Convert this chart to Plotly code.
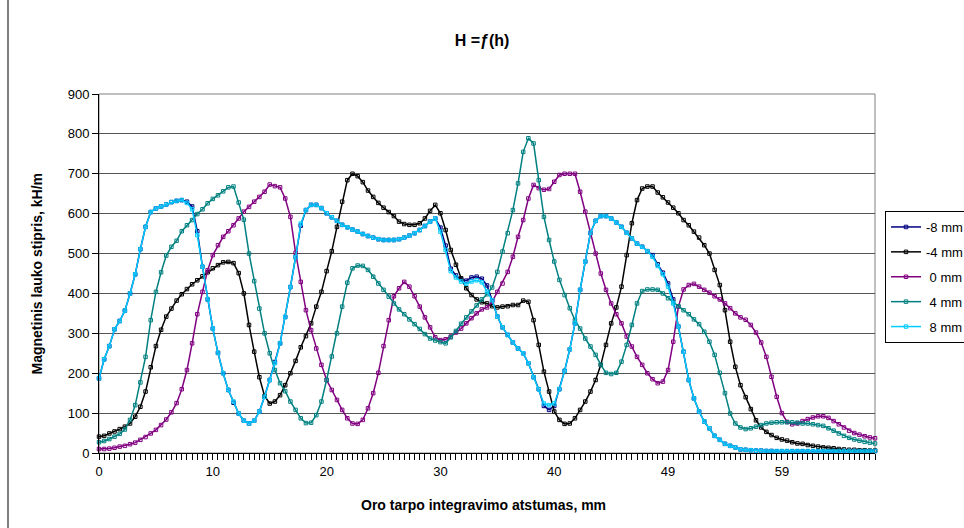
import plotly.graph_objects as go

# Magnetic field strength H (kH/m) along the integration distance, one series per offset
h_m8 = [187, 235, 268, 310, 331, 357, 400, 448, 511, 567, 604, 613, 618, 623, 629, 632, 634, 630, 618, 556, 467, 385, 312, 251, 200, 158,
        126, 99, 81, 74, 81, 104, 141, 183, 228, 275, 341, 416, 491, 570, 609, 622, 622, 614, 601, 591, 582, 572, 566, 560, 555,
        549, 544, 540, 536, 534, 534, 534, 536, 540, 545, 551, 559, 569, 580, 588, 565, 520, 462, 445, 435, 432, 440, 442, 437, 420,
        383, 342, 315, 296, 277, 262, 250, 225, 190, 160, 118, 108, 118, 160, 206, 260, 325, 409, 480, 552, 582, 594, 594, 588, 578,
        567, 552, 538, 525, 517, 506, 496, 473, 452, 425, 385, 317, 254, 183, 137, 104, 79, 62, 43, 33, 23, 18, 14, 9, 8,
        7, 6, 6, 5, 5, 4, 4, 4, 4, 4, 4, 4, 4, 4, 4, 5, 5, 5, 5, 5, 5, 5, 5, 5, 5]

h_m4 = [41, 43, 49, 54, 60, 66, 74, 91, 116, 154, 215, 268, 309, 342, 362, 382, 398, 411, 423, 433, 443, 453, 463, 471, 478, 479,
        476, 451, 400, 321, 254, 190, 143, 124, 129, 145, 170, 200, 231, 265, 293, 325, 367, 404, 456, 506, 567, 630, 684, 700, 694,
        679, 658, 642, 627, 615, 604, 594, 580, 574, 572, 572, 576, 588, 607, 622, 601, 559, 509, 472, 438, 413, 396, 385, 378, 375,
        368, 365, 367, 368, 371, 371, 382, 379, 333, 271, 204, 154, 104, 83, 73, 74, 87, 108, 129, 154, 183, 221, 271, 325, 365,
        417, 496, 576, 634, 663, 668, 668, 653, 641, 628, 615, 601, 584, 571, 555, 540, 521, 500, 459, 421, 358, 279, 216, 170, 140,
        110, 82, 64, 53, 45, 38, 34, 31, 27, 24, 23, 20, 18, 16, 14, 13, 12, 10, 9, 8, 8, 7, 7, 6, 6]

h_0 = [10, 10, 11, 13, 16, 18, 22, 26, 33, 40, 49, 58, 70, 84, 102, 125, 160, 208, 275, 348, 404, 458, 496, 521, 542, 556,
       571, 588, 605, 617, 630, 642, 655, 673, 669, 666, 638, 592, 502, 429, 358, 308, 262, 221, 183, 158, 133, 108, 87, 74, 73,
       83, 112, 150, 201, 268, 333, 393, 413, 429, 417, 393, 367, 340, 315, 290, 283, 285, 292, 302, 312, 325, 338, 350, 360, 365,
       379, 404, 425, 454, 492, 542, 584, 638, 672, 664, 660, 662, 680, 697, 700, 700, 700, 655, 605, 551, 500, 450, 409, 375, 348,
       325, 292, 267, 241, 221, 200, 185, 175, 179, 208, 279, 367, 410, 421, 424, 417, 409, 402, 393, 385, 375, 363, 350, 340, 334,
       321, 302, 277, 241, 191, 141, 100, 78, 72, 74, 80, 85, 89, 92, 92, 88, 80, 72, 64, 56, 50, 46, 42, 39, 37]

h_4 = [27, 30, 35, 41, 48, 59, 83, 120, 177, 241, 333, 404, 453, 495, 517, 532, 556, 571, 584, 599, 611, 626, 637, 646, 656, 666,
       668, 628, 585, 500, 431, 362, 300, 250, 208, 175, 155, 129, 108, 87, 75, 76, 95, 129, 183, 242, 300, 367, 427, 463, 470,
       469, 459, 442, 425, 409, 392, 375, 360, 348, 335, 323, 311, 298, 287, 282, 278, 275, 290, 306, 324, 340, 355, 370, 385, 398,
       415, 454, 505, 551, 609, 676, 755, 789, 776, 684, 592, 534, 480, 434, 396, 363, 333, 312, 287, 267, 246, 221, 201, 198, 201,
       229, 271, 321, 375, 406, 410, 410, 409, 400, 388, 378, 368, 358, 348, 335, 323, 304, 279, 246, 201, 150, 99, 74, 64, 60,
       62, 66, 70, 74, 76, 77, 77, 77, 77, 76, 74, 74, 72, 70, 68, 62, 56, 49, 43, 38, 34, 31, 28, 26, 24]

h_8 = [187, 235, 268, 310, 331, 357, 400, 448, 511, 567, 604, 613, 618, 623, 629, 632, 634, 627, 611, 546, 467, 385, 312, 251, 200, 158,
       129, 99, 81, 74, 81, 104, 141, 183, 225, 275, 341, 416, 491, 575, 609, 622, 622, 614, 601, 591, 582, 572, 566, 560, 555,
       549, 544, 540, 536, 534, 534, 534, 536, 540, 545, 551, 559, 569, 580, 588, 555, 509, 456, 440, 430, 424, 430, 433, 428, 405,
       383, 342, 315, 296, 277, 262, 250, 225, 190, 160, 124, 120, 124, 160, 206, 260, 325, 409, 480, 552, 582, 594, 594, 588, 578,
       567, 552, 538, 525, 517, 506, 492, 469, 448, 417, 375, 317, 254, 183, 137, 104, 79, 62, 43, 33, 23, 18, 14, 9, 8,
       7, 6, 6, 5, 5, 5, 5, 5, 5, 5, 5, 5, 5, 5, 5, 5, 5, 5, 5, 5, 5, 5, 5, 5, 5]

series_names = ["-8 mm", "-4 mm", "\u00a00 mm", "\u00a04 mm", "\u00a08 mm"]
series_colors = ["#000080", "#000000", "#800080", "#008080", "#00CCFF"]

# Category axis: a label is shown on every 22nd sample
tick_labels = ["0", "10", "20", "30", "40", "49", "59"]
label_every = 22

FONT = "Liberation Sans, Arial, sans-serif"

# Pixel geometry of the plotting area
W, H = 964, 528
L, R, T, B = 99, 875, 94, 453
pw, ph = R - L, B - T


def px_x(x):
    return (x - L) / pw


def px_y(y):
    return (B - y) / ph


n = len(h_8)
idx = list(range(n))

fig = go.Figure()
for name, vals, color in zip(series_names, [h_m8, h_m4, h_0, h_4, h_8], series_colors):
    fig.add_trace(go.Scatter(
        x=idx, y=vals, mode="lines+markers", name=name,
        legendgroup=name,
        line=dict(color=color, width=1.5),
        marker=dict(symbol="square-open", size=3.5, color=color, line=dict(width=1, color=color)),
        cliponaxis=False,
    ))

fig.update_layout(
    width=W, height=H,
    margin=dict(l=L, r=W - R, t=T, b=H - B, autoexpand=False),
    paper_bgcolor="white", plot_bgcolor="white",
    font=dict(family=FONT, size=13, color="black"),
    title=dict(text="<b>H =ƒ(h)</b>", x=0.5, xref="container", xanchor="center",
               y=1 - 40 / H, yref="container", yanchor="middle",
               font=dict(family=FONT, size=16, color="black")),
    xaxis=dict(
        range=[0, n - 1], tickmode="array",
        tickvals=[label_every * k for k in range(len(tick_labels))], ticktext=tick_labels,
        ticks="outside", ticklen=6, tickcolor="black", tickwidth=1,
        showline=True, linecolor="black", linewidth=1,
        showgrid=False, zeroline=False,
        tickfont=dict(family=FONT, size=13, color="black"),
        minor=dict(tickmode="linear", tick0=0, dtick=1, ticks="outside", ticklen=6,
                   tickcolor="black", tickwidth=1, showgrid=False),
    ),
    yaxis=dict(
        range=[0, 900], tickmode="linear", tick0=0, dtick=100,
        ticks="outside", ticklen=6, tickcolor="black", tickwidth=1,
        showline=True, linecolor="black", linewidth=1,
        showgrid=True, gridcolor="#555555", gridwidth=1, zeroline=False,
        tickfont=dict(family=FONT, size=13, color="black"),
    ),
    legend=dict(
        x=px_x(885), xanchor="left", y=px_y(211), yanchor="top",
        bordercolor="black", borderwidth=1, bgcolor="white",
        font=dict(family=FONT, size=13, color="black"),
        itemwidth=30, tracegroupgap=5,
    ),
    showlegend=True,
)

fig.add_annotation(text="<b>Magnetinis lauko stipris, kH/m</b>", textangle=-90,
                   xref="paper", yref="paper", x=px_x(36), y=0.5,
                   xanchor="center", yanchor="middle", showarrow=False,
                   font=dict(family=FONT, size=14, color="black"))
fig.add_annotation(text="<b>Oro tarpo integravimo atstumas, mm</b>",
                   xref="paper", yref="paper", x=px_x(483), y=px_y(505),
                   xanchor="center", yanchor="middle", showarrow=False,
                   font=dict(family=FONT, size=14, color="black"))

# Plot-area frame and the outer chart border on the left
fig.add_shape(type="rect", xref="paper", yref="paper", x0=0, x1=1, y0=0, y1=1,
              line=dict(color="#808080", width=1), layer="below")
fig.add_shape(type="line", xref="paper", yref="paper", x0=px_x(8), x1=px_x(8),
              y0=px_y(H), y1=px_y(0), line=dict(color="black", width=1))

fig.write_html("out.html")
